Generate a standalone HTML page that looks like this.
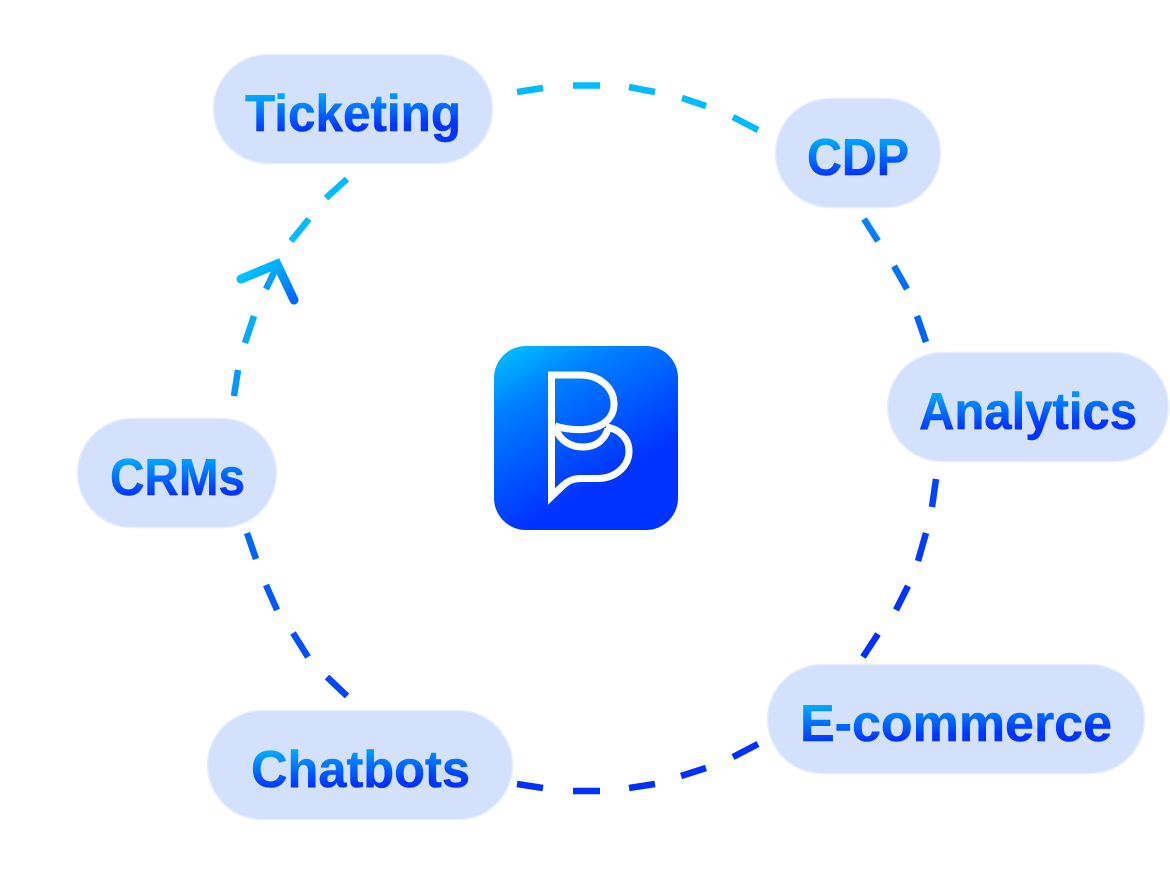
<!DOCTYPE html>
<html><head><meta charset="utf-8"><style>
html,body{margin:0;padding:0;background:#fff;width:1170px;height:877px;overflow:hidden}
svg{display:block}
text{font-family:"Liberation Sans",sans-serif;font-weight:700;font-size:52px;stroke-width:.5;stroke-linejoin:round}
</style></head><body>
<svg width="1170" height="877" viewBox="0 0 1170 877" xmlns="http://www.w3.org/2000/svg">
<defs>
<linearGradient id="dash" gradientUnits="userSpaceOnUse" x1="450" y1="130" x2="640" y2="700">
<stop offset=".15" stop-color="#00bcff"/><stop offset=".38" stop-color="#0080ff"/><stop offset=".54" stop-color="#0066ff"/><stop offset="1" stop-color="#0030ff"/></linearGradient>
<linearGradient id="arrow" gradientUnits="userSpaceOnUse" x1="260" y1="262" x2="290" y2="302">
<stop offset="0" stop-color="#00c4ff"/><stop offset="1" stop-color="#0068ff"/></linearGradient>
<linearGradient id="logo" gradientUnits="userSpaceOnUse" x1="505" y1="340" x2="590" y2="490">
<stop offset="0" stop-color="#00c6ff"/><stop offset=".35" stop-color="#0080ff"/><stop offset="1" stop-color="#0033ff"/></linearGradient>
<linearGradient id="t1" gradientUnits="userSpaceOnUse" x1="245" y1="93" x2="247" y2="133"><stop offset="0" stop-color="#00b4ff"/><stop offset="1" stop-color="#0033ff"/></linearGradient>
<linearGradient id="t2" gradientUnits="userSpaceOnUse" x1="808" y1="137" x2="810" y2="177"><stop offset="0" stop-color="#00b4ff"/><stop offset="1" stop-color="#0033ff"/></linearGradient>
<linearGradient id="t3" gradientUnits="userSpaceOnUse" x1="919" y1="391" x2="921" y2="431"><stop offset="0" stop-color="#00b4ff"/><stop offset="1" stop-color="#0033ff"/></linearGradient>
<linearGradient id="t4" gradientUnits="userSpaceOnUse" x1="110" y1="457" x2="112" y2="497"><stop offset="0" stop-color="#00b4ff"/><stop offset="1" stop-color="#0033ff"/></linearGradient>
<linearGradient id="t5" gradientUnits="userSpaceOnUse" x1="251" y1="749" x2="253" y2="789"><stop offset="0" stop-color="#00b4ff"/><stop offset="1" stop-color="#0033ff"/></linearGradient>
<linearGradient id="t6" gradientUnits="userSpaceOnUse" x1="801" y1="703" x2="803" y2="743"><stop offset="0" stop-color="#00b4ff"/><stop offset="1" stop-color="#0033ff"/></linearGradient>
</defs>

<path fill="none" stroke="url(#dash)" stroke-width="6.500" d="
M517 92L543 88 M573 85.500L600 85.500 M629 87L655 92 M682 98L706 106 M733 117L758 130
M864 219L878 241 M894 266L907 289 M917 316L926 342
M936 479L932 507 M926 533L918 561 M908 586L896 610 M878 634L863 657
M758 744L733 757 M706 768L681 776 M655 784L629 788 M600 791L573 791 M543 788L517 784
M347 696L327 677 M308 657L293 633 M277 610L266 585 M256 559L247 533
M234 396L238 370 M245 343L254 316
M291 241L309 219 M326 198L347 179"/>
<path fill="none" stroke="url(#arrow)" stroke-width="6.500" d="M266 289L278 264"/>
<path fill="none" stroke="url(#arrow)" stroke-width="9" stroke-linecap="round" stroke-linejoin="miter" d="M241 279L277 264L294 300"/>

<rect x="213.500" y="54.500" width="279" height="109" rx="54.500" fill="#d3e1fd" stroke="#e6eefe" stroke-width="1.500"/>
<rect x="775.500" y="98.500" width="165" height="109" rx="54.500" fill="#d3e1fd" stroke="#e6eefe" stroke-width="1.500"/>
<rect x="887.500" y="352.500" width="281" height="109" rx="54.500" fill="#d3e1fd" stroke="#e6eefe" stroke-width="1.500"/>
<rect x="77.500" y="418.500" width="199" height="109" rx="54.500" fill="#d3e1fd" stroke="#e6eefe" stroke-width="1.500"/>
<rect x="207.500" y="710.500" width="305" height="109" rx="54.500" fill="#d3e1fd" stroke="#e6eefe" stroke-width="1.500"/>
<rect x="767.500" y="664.500" width="377" height="109" rx="54.500" fill="#d3e1fd" stroke="#e6eefe" stroke-width="1.500"/>

<text x="245" y="131" textLength="216" lengthAdjust="spacingAndGlyphs" fill="url(#t1)" stroke="url(#t1)">Ticketing</text>
<text x="807" y="175" textLength="102" lengthAdjust="spacingAndGlyphs" fill="url(#t2)" stroke="url(#t2)">CDP</text>
<text x="919" y="429" textLength="218" lengthAdjust="spacingAndGlyphs" fill="url(#t3)" stroke="url(#t3)">Analytics</text>
<text x="110" y="495" textLength="135" lengthAdjust="spacingAndGlyphs" fill="url(#t4)" stroke="url(#t4)">CRMs</text>
<text x="251" y="787" textLength="219" lengthAdjust="spacingAndGlyphs" fill="url(#t5)" stroke="url(#t5)">Chatbots</text>
<text x="800" y="741" textLength="312" lengthAdjust="spacingAndGlyphs" fill="url(#t6)" stroke="url(#t6)">E-commerce</text>

<rect x="494" y="346" width="184" height="184" rx="32" fill="url(#logo)"/>
<path fill="none" stroke="#fff" stroke-width="7" stroke-miterlimit="10" d="M555 426C564 429 573 430 584 429.500C603 428 614 418 614 404C614 388 600 375 580 375H551.500V496.500L563 485.500C568 481 573 478.500 581 478.500H597C616 478.500 629 466 629 451C629 439 620 429 606 427"/>
<path fill="none" stroke="#fff" stroke-width="7" d="M556 429C560 441 571 447 583 447C595 447 604 441 608 429"/>
</svg>
</body></html>
